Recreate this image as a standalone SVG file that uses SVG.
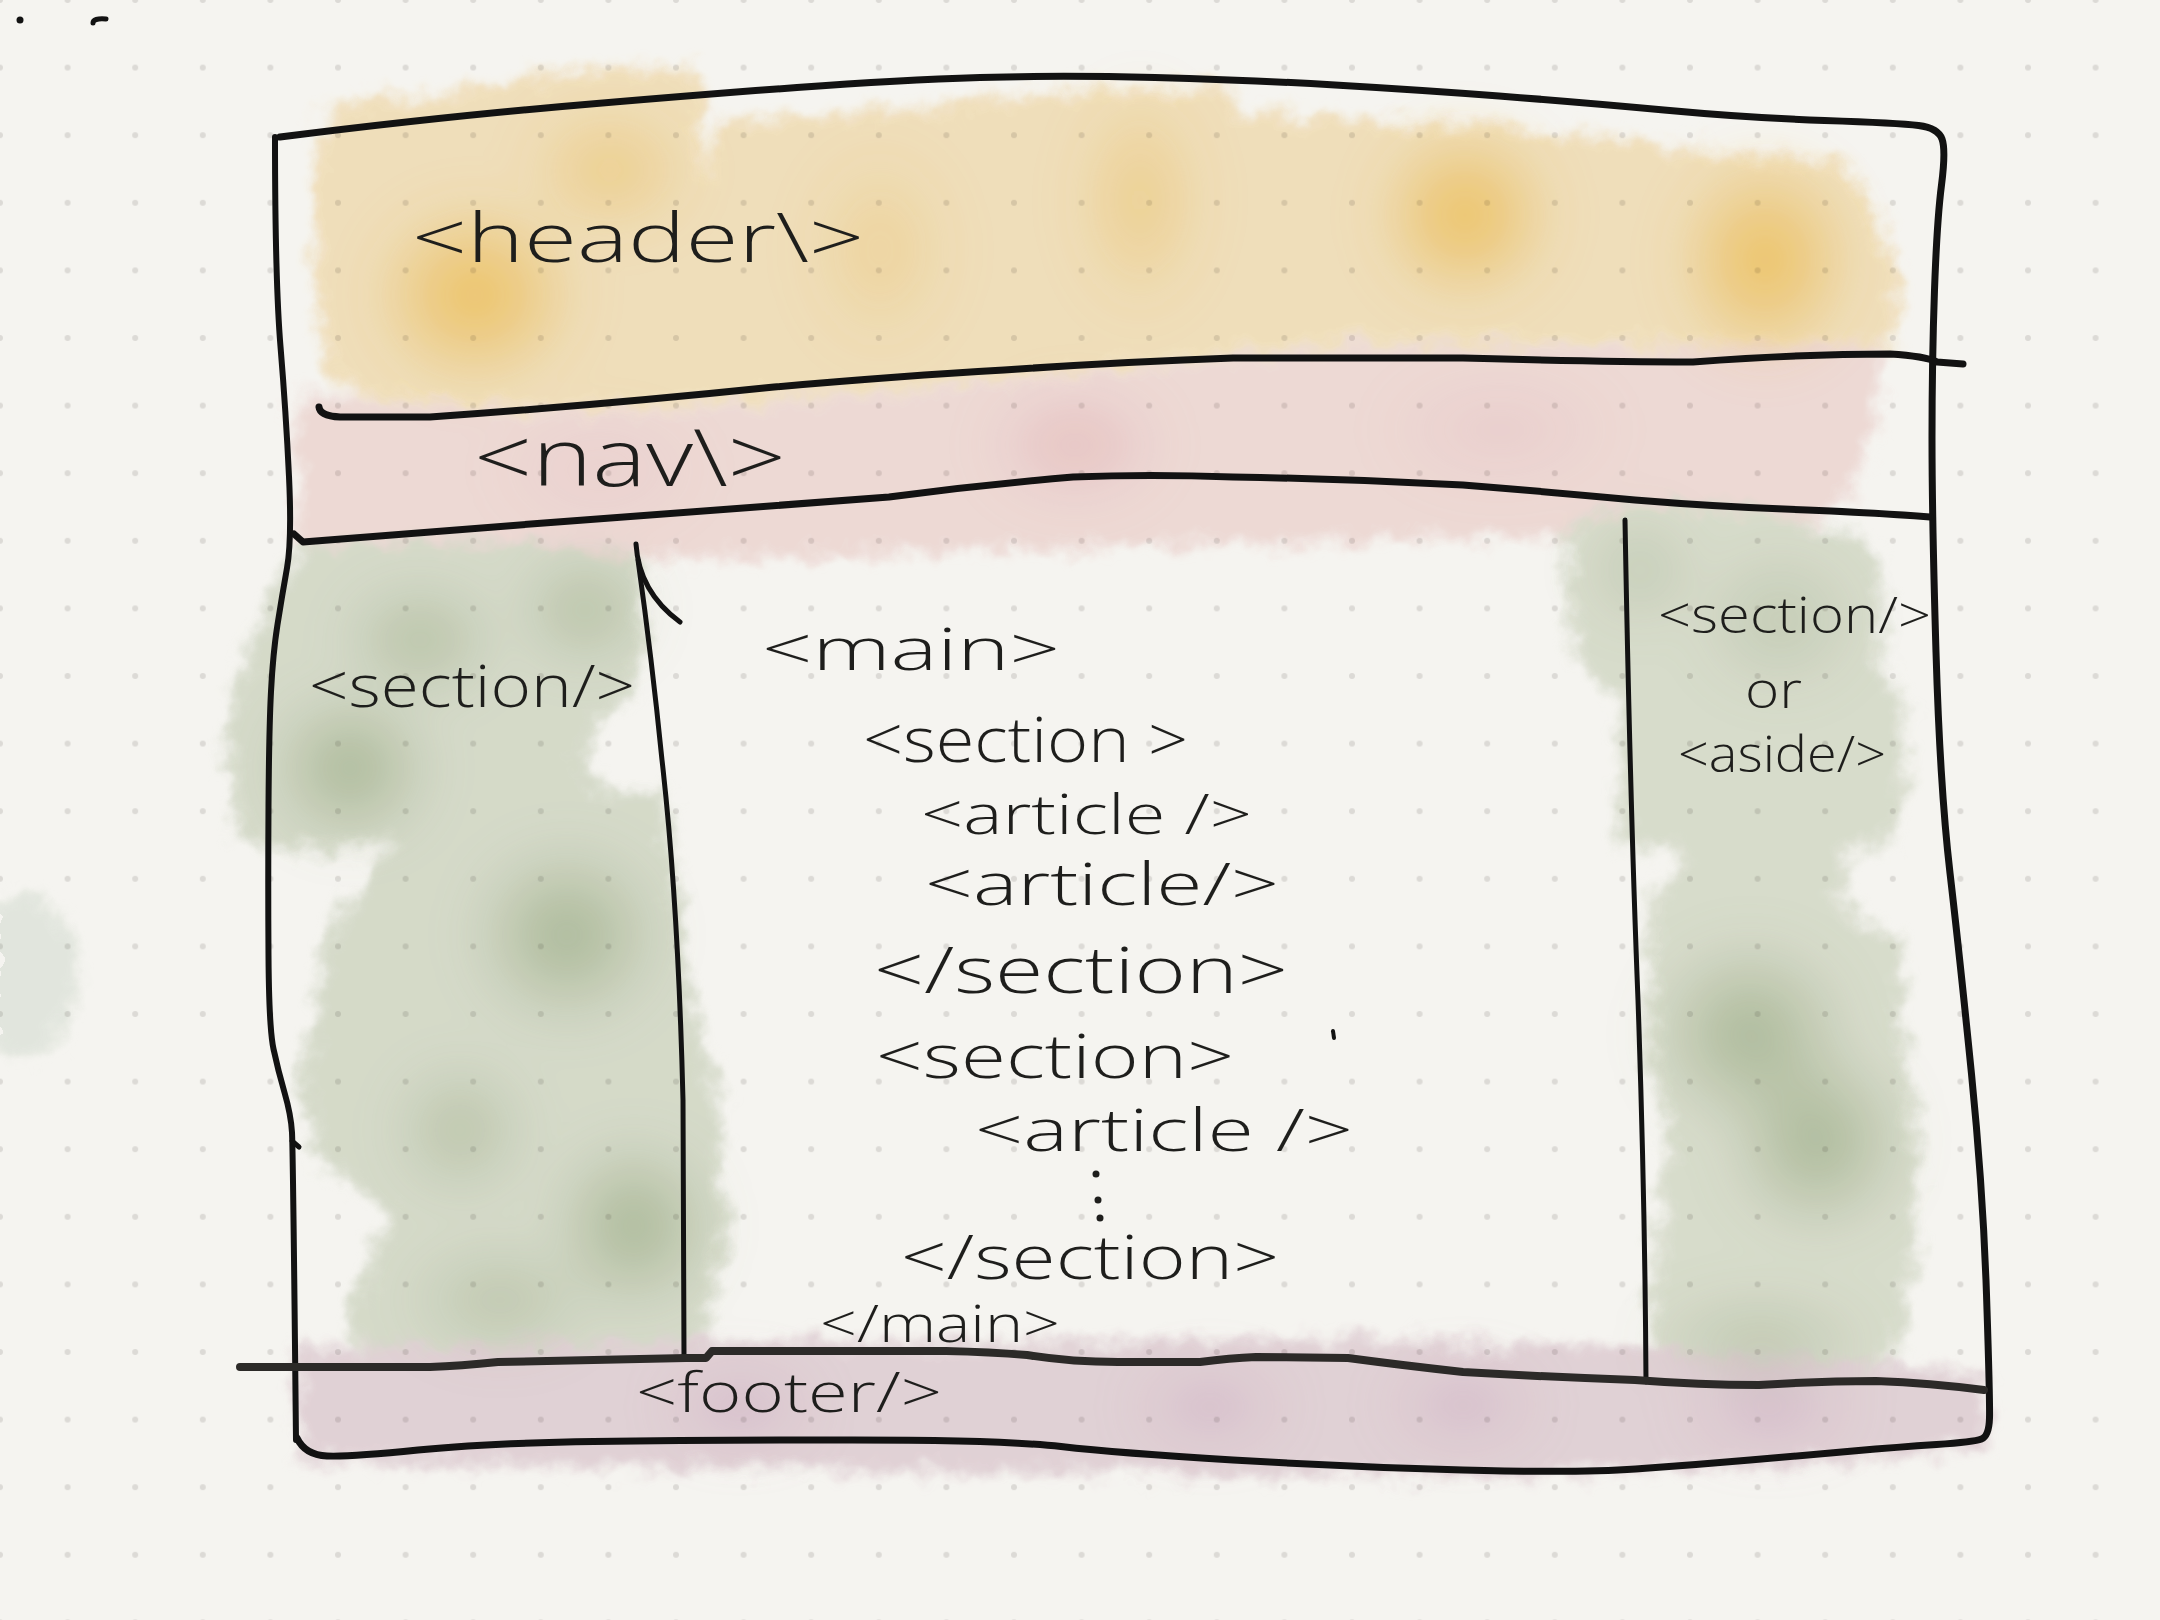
<svg xmlns="http://www.w3.org/2000/svg" width="2160" height="1620" viewBox="0 0 2160 1620">
<defs>
<pattern id="dots" width="67.6" height="67.6" x="33.8" y="33.8" patternUnits="userSpaceOnUse">
<circle cx="33.8" cy="33.8" r="3" fill="#dcdad6"/>
</pattern>
<filter id="wash" filterUnits="userSpaceOnUse" x="0" y="0" width="2160" height="1620">
<feTurbulence type="fractalNoise" baseFrequency="0.035" numOctaves="3" seed="4" result="n"/>
<feGaussianBlur in="SourceGraphic" stdDeviation="7" result="b"/>
<feDisplacementMap in="b" in2="n" scale="30" xChannelSelector="R" yChannelSelector="G"/>
</filter>
<filter id="soft" filterUnits="userSpaceOnUse" x="0" y="0" width="2160" height="1620">
<feGaussianBlur stdDeviation="24"/>
</filter>
<radialGradient id="gOr"><stop offset="0" stop-color="#f4bb3e" stop-opacity="0.85"/><stop offset="1" stop-color="#f4bb3e" stop-opacity="0"/></radialGradient>
<radialGradient id="gPk"><stop offset="0" stop-color="#eab0b8" stop-opacity="0.65"/><stop offset="1" stop-color="#eab0b8" stop-opacity="0"/></radialGradient>
<radialGradient id="gGr"><stop offset="0" stop-color="#98ab82" stop-opacity="0.8"/><stop offset="1" stop-color="#98ab82" stop-opacity="0"/></radialGradient>
<radialGradient id="gPu"><stop offset="0" stop-color="#d3b4cb" stop-opacity="0.8"/><stop offset="1" stop-color="#d3b4cb" stop-opacity="0"/></radialGradient>
</defs>
<style>
.ink{fill:none;stroke:#121212;stroke-linecap:round;stroke-linejoin:round}
.t{font-family:"Open Sans","Liberation Sans",sans-serif;font-weight:300;fill:#1e1e1c}
</style>
<rect width="2160" height="1620" fill="#f5f4f0"/>
<rect width="2160" height="1620" fill="url(#dots)"/>

<g id="washes" style="mix-blend-mode:multiply" opacity="0.9">
<g filter="url(#wash)">
<path fill="#f9e6c0" d="M315,150 L330,105 L420,95 L560,72 L690,65 L700,90 L705,180 L720,120 L900,110 L1060,90 L1233,87 L1240,113 L1500,125 L1700,150 L1841,163 L1870,200 L1900,280 L1895,343 L1600,345 L1348,343 L1100,370 L774,400 L560,410 L372,400 L330,380 L315,300 Z"/>
<path fill="#f6e0df" d="M296,395 L372,402 L560,412 L774,402 L1100,372 L1348,345 L1600,347 L1877,343 L1877,430 L1850,493 L1800,530 L1400,540 L1000,550 L600,560 L400,560 L296,555 Z"/>
<path fill="#dae1d1" d="M300,545 L450,540 L560,548 L640,555 L645,620 L636,690 L600,720 L583,760 L600,790 L665,790 L678,900 L690,1000 L720,1100 L725,1250 L705,1330 L690,1362 L380,1362 L345,1330 L365,1270 L389,1210 L317,1160 L300,1100 L315,1000 L330,930 L365,880 L391,845 L300,852 L240,840 L227,760 L235,680 L257,630 L280,580 Z"/>
<path fill="#dde3d4" d="M1567,530 L1620,505 L1760,510 L1870,540 L1885,620 L1880,670 L1905,700 L1907,780 L1890,844 L1850,850 L1840,902 L1900,940 L1905,1050 L1917,1131 L1915,1250 L1900,1340 L1860,1378 L1660,1380 L1650,1300 L1667,1131 L1650,1050 L1650,902 L1683,850 L1620,844 L1617,700 L1575,660 L1567,600 Z"/>
<path fill="#e8d7e0" d="M296,1348 L700,1340 L1000,1342 L1300,1338 L1600,1346 L1985,1372 L1988,1447 L1800,1465 L1500,1476 L1000,1472 L600,1468 L400,1463 L300,1460 Z"/>
<ellipse cx="22" cy="975" rx="55" ry="80" fill="#e9efe9"/>
</g>
<g filter="url(#soft)">
<ellipse cx="475" cy="295" rx="110" ry="100" fill="url(#gOr)"/>
<ellipse cx="610" cy="170" rx="90" ry="70" fill="url(#gOr)" opacity="0.55"/>
<ellipse cx="1140" cy="200" rx="70" ry="120" fill="url(#gOr)" opacity="0.5"/>
<ellipse cx="1465" cy="215" rx="95" ry="95" fill="url(#gOr)"/>
<ellipse cx="1765" cy="260" rx="95" ry="110" fill="url(#gOr)"/>
<ellipse cx="880" cy="250" rx="80" ry="110" fill="url(#gOr)" opacity="0.35"/>
<ellipse cx="1075" cy="445" rx="90" ry="60" fill="url(#gPk)"/>
<ellipse cx="1500" cy="430" rx="120" ry="60" fill="url(#gPk)" opacity="0.45"/>
<ellipse cx="600" cy="470" rx="110" ry="60" fill="url(#gPk)" opacity="0.35"/>
<ellipse cx="350" cy="768" rx="85" ry="80" fill="url(#gGr)"/>
<ellipse cx="420" cy="640" rx="80" ry="60" fill="url(#gGr)" opacity="0.75"/>
<ellipse cx="585" cy="610" rx="70" ry="60" fill="url(#gGr)" opacity="0.75"/>
<ellipse cx="567" cy="935" rx="100" ry="95" fill="url(#gGr)"/>
<ellipse cx="634" cy="1226" rx="85" ry="90" fill="url(#gGr)"/>
<ellipse cx="460" cy="1130" rx="70" ry="70" fill="url(#gGr)" opacity="0.65"/>
<ellipse cx="500" cy="1300" rx="100" ry="60" fill="url(#gGr)" opacity="0.55"/>
<ellipse cx="1750" cy="1034" rx="105" ry="100" fill="url(#gGr)"/>
<ellipse cx="1817" cy="1140" rx="95" ry="100" fill="url(#gGr)"/>
<ellipse cx="1780" cy="620" rx="90" ry="80" fill="url(#gGr)" opacity="0.45"/>
<ellipse cx="1640" cy="570" rx="60" ry="60" fill="url(#gGr)" opacity="0.45"/>
<ellipse cx="1760" cy="1340" rx="120" ry="50" fill="url(#gGr)" opacity="0.55"/>
<ellipse cx="740" cy="1407" rx="80" ry="45" fill="url(#gPu)"/>
<ellipse cx="1210" cy="1407" rx="80" ry="45" fill="url(#gPu)"/>
<ellipse cx="1463" cy="1405" rx="80" ry="45" fill="url(#gPu)"/>
<ellipse cx="1770" cy="1410" rx="90" ry="45" fill="url(#gPu)"/>
</g>
</g>

<g id="lines" class="ink">
<path stroke-width="7" d="M280,137 Q430,118 562,106.5 Q694,95 797,87.5 Q900,80 980,77.5 Q1060,75 1155,77.5 Q1250,80 1335,85 Q1420,90 1499,96 Q1578,102 1664,110 Q1750,118 1824.5,120.5 Q1899,123 1918.5,125.5 Q1938,128 1942,139 Q1946,150 1941.5,185 Q1937,220 1934.5,290 Q1932,360 1932,438.5 Q1932,517 1936,652 Q1940,787 1950,873 Q1960,959 1971.5,1074 Q1983,1189 1986.5,1294.5 Q1990,1400 1989.5,1418 Q1989,1436 1981.5,1439 Q1974,1442 1936.5,1444.5 Q1899,1447 1853,1451 Q1807,1455 1750,1460 Q1693,1465 1635.5,1469 Q1578,1473 1463,1470 Q1348,1467 1233,1460 Q1118,1453 1061,1446.5 Q1004,1440 852,1440 Q700,1440 593.5,1441.5 Q487,1443 418,1450 Q349,1457 327,1456 Q305,1455 297,1438"/>
<path stroke-width="6" d="M275,137 Q275,280 280.5,346.5 Q286,413 289,476.5 Q292,540 287,568 Q282,596 277.5,624.5 Q273,653 271,691.5 Q269,730 268.5,806.5 Q268,883 268.5,955.5 Q269,1028 273.5,1049 Q278,1070 284.5,1092.5 Q291,1115 292,1132.5 Q293,1150 296,1440"/>
<path stroke-width="5" d="M292,1141 L299,1147"/>
<path stroke-width="7" d="M319,407 Q320,416 340,417 L430,417 Q600,405 774,387 Q900,376 1004,370 Q1120,362 1233,358 L1463,358 Q1600,362 1693,362 Q1800,354 1890,354 Q1925,356 1937,362 L1963,364"/>
<path stroke-width="7" d="M294,534 L303,542 Q420,533 544,523 Q720,510 889,497 Q980,485 1073,477 Q1150,474 1233,477 Q1350,479 1463,485 Q1550,492 1635,500 Q1720,507 1807,510 Q1880,513 1930,517"/>
<path stroke-width="5" d="M636,544 Q639,592 680,622"/>
<path stroke-width="5" d="M638,560 Q652,660 662,760 Q678,900 683,1100 L684,1358"/>
<path stroke-width="5" d="M1625,520 Q1630,800 1638,1000 Q1645,1200 1646,1382"/>
<path stroke-width="8" stroke="#2c2a28" d="M240,1367 L430,1367 Q460,1366 498,1362 L686,1358 L706,1358 L712,1351 L946,1351 Q990,1352 1027,1355 Q1070,1362 1118,1362 L1200,1362 Q1230,1358 1256,1357 L1348,1358 Q1400,1365 1463,1372 Q1550,1377 1635,1380 Q1700,1385 1759,1385 Q1820,1381 1876,1381 Q1930,1383 1984,1390"/>
</g>

<g id="marks" fill="#121212">
<circle cx="20" cy="20" r="3.5"/>
<path d="M93,23 Q93,18 106,19" fill="none" stroke="#121212" stroke-width="5" stroke-linecap="round"/>
<path d="M1333,1031 L1334,1038" fill="none" stroke="#121212" stroke-width="4" stroke-linecap="round"/>
</g>

<g id="header"><text class="t" x="412" y="262" font-size="68" textLength="452" lengthAdjust="spacingAndGlyphs">&lt;header\&gt;</text></g>
<g id="nav"><text class="t" x="474" y="486" font-size="80" textLength="312" lengthAdjust="spacingAndGlyphs">&lt;nav\&gt;</text></g>
<g id="section-left"><text class="t" x="309" y="707" font-size="58" textLength="326" lengthAdjust="spacingAndGlyphs">&lt;section/&gt;</text></g>
<g id="main">
<text class="t" x="762" y="670" font-size="58" textLength="298" lengthAdjust="spacingAndGlyphs">&lt;main&gt;</text>
<text class="t" x="863" y="762" font-size="62" textLength="325" lengthAdjust="spacingAndGlyphs">&lt;section &gt;</text>
<text class="t" x="921" y="834" font-size="56" textLength="331" lengthAdjust="spacingAndGlyphs">&lt;article /&gt;</text>
<text class="t" x="925" y="905" font-size="58" textLength="354" lengthAdjust="spacingAndGlyphs">&lt;article/&gt;</text>
<text class="t" x="874" y="993" font-size="64" textLength="414" lengthAdjust="spacingAndGlyphs">&lt;/section&gt;</text>
<text class="t" x="876" y="1078" font-size="60" textLength="358" lengthAdjust="spacingAndGlyphs">&lt;section&gt;</text>
<text class="t" x="975" y="1151" font-size="58" textLength="378" lengthAdjust="spacingAndGlyphs">&lt;article /&gt;</text>
<g fill="#1e1e1c"><circle cx="1096" cy="1174" r="3.5"/><circle cx="1098" cy="1200" r="3.5"/><circle cx="1100" cy="1218" r="3.5"/></g>
<text class="t" x="901" y="1279" font-size="60" textLength="378" lengthAdjust="spacingAndGlyphs">&lt;/section&gt;</text>
<text class="t" x="820" y="1342" font-size="52" textLength="240" lengthAdjust="spacingAndGlyphs">&lt;/main&gt;</text>
</g>
<g id="aside-right">
<text class="t" x="1658" y="633" font-size="50" textLength="273" lengthAdjust="spacingAndGlyphs">&lt;section/&gt;</text>
<text class="t" x="1745" y="708" font-size="50" textLength="57" lengthAdjust="spacingAndGlyphs">or</text>
<text class="t" x="1678" y="772" font-size="50" textLength="208" lengthAdjust="spacingAndGlyphs">&lt;aside/&gt;</text>
</g>
<g id="footer"><text class="t" x="636" y="1412" font-size="56" textLength="306" lengthAdjust="spacingAndGlyphs">&lt;footer/&gt;</text></g>
</svg>
